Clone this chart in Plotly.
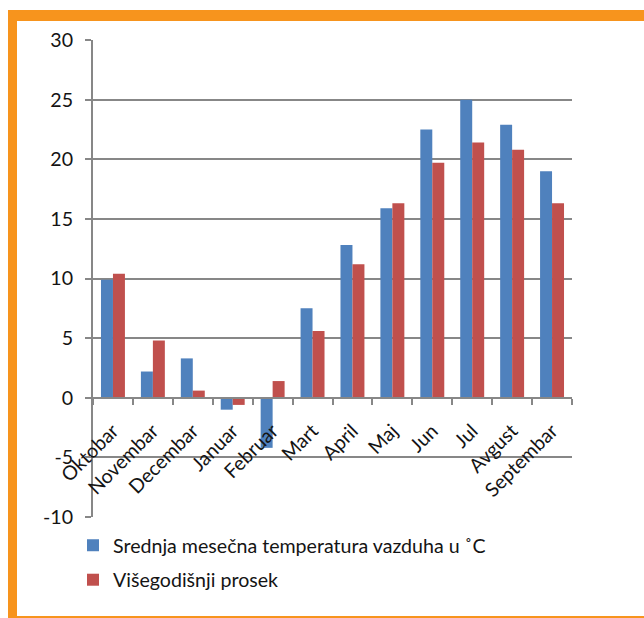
import plotly.graph_objects as go

# Months (hydrological year, October to September)
months = ["Oktobar", "Novembar", "Decembar", "Januar", "Februar", "Mart",
          "April", "Maj", "Jun", "Jul", "Avgust", "Septembar"]

# Mean monthly air temperature for the year (°C)
srednja = [9.9, 2.2, 3.3, -1.0, -4.2, 7.5, 12.8, 15.9, 22.5, 25.0, 22.9, 19.0]

# Long-term average (°C)
prosek = [10.4, 4.8, 0.6, -0.6, 1.4, 5.6, 11.2, 16.3, 19.7, 21.4, 20.8, 16.3]

y_ticks = [-10, -5, 0, 5, 10, 15, 20, 25, 30]
y_labels = [str(v) for v in y_ticks]  # plain hyphen for negatives

name_srednja = "Srednja mesečna temperatura vazduha u ˚C"
name_prosek = "Višegodišnji prosek"

BLUE = "#4F81BD"
RED = "#C0504D"
GRID = "#878787"
ORANGE = "#F7941D"
FONT = "Lato"
TXT = "#141414"
FS = 19.6

W, H = 644, 618
L, R, T, B = 93, 72, 40, 101

y_min, y_max = y_ticks[0], y_ticks[-1]
zero_pos = (0 - y_min) / (y_max - y_min)

fig = go.Figure()
fig.add_trace(go.Bar(x=months, y=srednja, name=name_srednja,
                     marker=dict(color=BLUE, line=dict(width=0)),
                     legendgroup="a"))
fig.add_trace(go.Bar(x=months, y=prosek, name=name_prosek,
                     marker=dict(color=RED, line=dict(width=0)),
                     legendgroup="b"))

# Frame: convert pixel edges into paper coordinates
pw, ph = W - L - R, H - T - B


def px_x(v):
    return (v - L) / pw


def px_y(v):
    return (H - B - v) / ph


frame = [
    (8, 10, 17, 640),      # left bar
    (8, 10, 700, 21),      # top bar
    (8, 616, 700, 640),    # bottom bar
]
shapes = []
for x0, y0, x1, y1 in frame:
    shapes.append(dict(type="rect", xref="paper", yref="paper",
                       x0=px_x(x0), x1=px_x(x1), y0=px_y(y1), y1=px_y(y0),
                       fillcolor=ORANGE, line=dict(width=0), layer="below"))

fig.update_layout(
    width=W, height=H,
    margin=dict(l=L, r=R, t=T, b=B, pad=0),
    paper_bgcolor="white", plot_bgcolor="rgba(0,0,0,0)",
    barmode="group", bargap=0.4, bargroupgap=0,
    font=dict(family=FONT, size=FS, color=TXT),
    showlegend=True,
    legend=dict(x=px_x(73), y=px_y(526), xanchor="left", yanchor="top",
                orientation="v", tracegroupgap=6,
                font=dict(family=FONT, size=FS, color=TXT),
                bgcolor="rgba(0,0,0,0)", traceorder="grouped"),
    xaxis=dict(anchor="free", position=zero_pos, tickangle=-45,
               tickson="boundaries", ticks="outside", ticklen=6,
               tickcolor=GRID, tickwidth=2,
               showline=True, linecolor=GRID, linewidth=2,
               showgrid=False, tickfont=dict(size=FS),
               ticklabelstandoff=13),
    yaxis=dict(range=[y_min, y_max], tickvals=y_ticks, ticktext=y_labels,
               ticks="outside", ticklen=6, tickcolor=GRID, tickwidth=2,
               showline=True, linecolor=GRID, linewidth=2,
               showgrid=True, gridcolor=GRID, gridwidth=2,
               zeroline=False, tickfont=dict(size=FS),
               ticklabelstandoff=8),
    shapes=shapes,
)

fig.write_html("out.html")
